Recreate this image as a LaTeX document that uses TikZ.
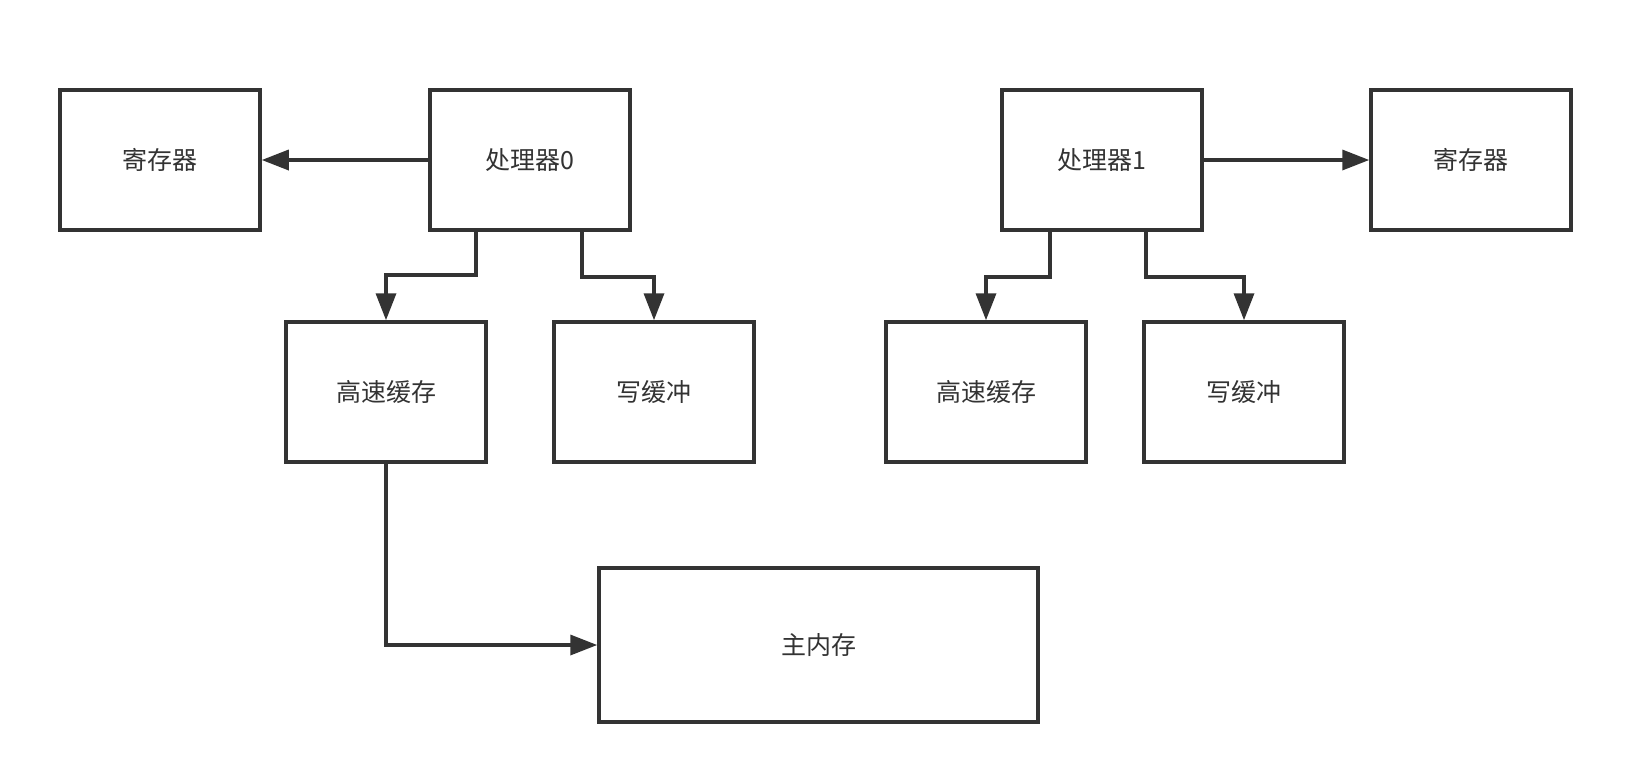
\documentclass[tikz,border=0pt]{standalone}
\usepackage{fontspec}
\setmainfont{Noto Sans CJK SC}
\usetikzlibrary{arrows.meta}
\definecolor{linegray}{HTML}{333333}
\begin{document}
\begin{tikzpicture}[x=1pt, y=-1pt, box/.style={draw=linegray, line width=3.5pt, minimum width=200pt, minimum height=140pt, inner sep=0pt, text=linegray, font=\fontsize{25}{30}\selectfont}, arr/.style={draw=linegray, line width=3.5pt, -{Triangle[length=27pt, width=20pt]}}]
            \useasboundingbox (0,0) rectangle (1632,774);
            \node[box] (r0) at (160,160) {寄存器}; \node[box] (p0) at (530,160) {处理器0}; \node[box] (p1) at (1102,160) {处理器1}; \node[box] (r1) at (1471,160) {寄存器};
            \node[box] (c0) at (386,392) {高速缓存}; \node[box] (w0) at (654,392) {写缓冲}; \node[box] (c1) at (986,392) {高速缓存}; \node[box] (w1) at (1244,392) {写缓冲};
            \node[box, minimum width=439pt, minimum height=154pt] (m) at (818.5,645) {主内存};
            \draw[arr] (p0) -- (r0);
            \draw[arr] (p1) -- (r1);
            \draw[arr] ([xshift=-54pt]p0.south) -- ++(0,-43pt) -| (c0.north);
            \draw[arr] ([xshift=52pt]p0.south) -- ++(0,-45pt) -| (w0.north);
            \draw[arr] ([xshift=-52pt]p1.south) -- ++(0,-45pt) -| (c1.north);
            \draw[arr] ([xshift=44pt]p1.south) -- ++(0,-45pt) -| (w1.north);
            \draw[arr] (c0.south) |- (m.west);% to main memory
        \end{tikzpicture}
\end{document}
